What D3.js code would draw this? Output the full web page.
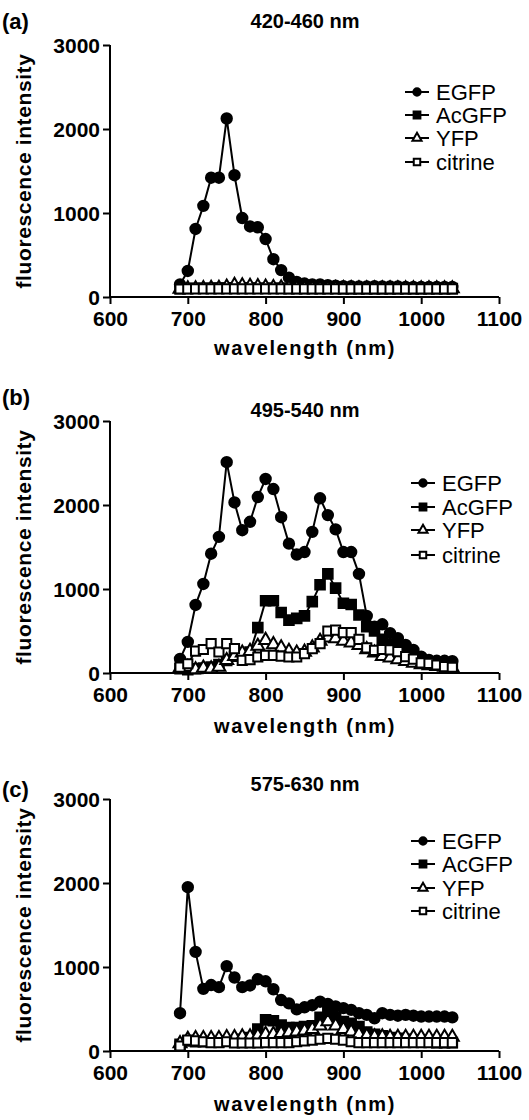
<!DOCTYPE html>
<html><head><meta charset="utf-8">
<script src="https://cdn.jsdelivr.net/npm/d3@7"></script>
<style>html,body{margin:0;padding:0;background:#fff;}svg{display:block;font-family:"Liberation Sans",Arial,sans-serif;}</style>
</head><body>
<script>
// ---------- data ----------
const wavelengths = [690,700,710,720,730,740,750,760,770,780,790,800,810,820,830,840,850,860,870,880,890,900,910,920,930,940,950,960,970,980,990,1000,1010,1020,1030,1040];
const seriesNames = ["EGFP","AcGFP","YFP","citrine"];
const panelLabels = ["(a)","(b)","(c)"];
const panelTitles = ["420-460 nm","495-540 nm","575-630 nm"];
const xTicks = [600,700,800,900,1000,1100];
const yTicks = [0,1000,2000,3000];

// panel (a) 420-460 nm
const egfpA    = [150,310,810,1085,1420,1420,2125,1450,940,840,830,690,450,320,230,180,160,150,150,140,135,130,130,125,125,130,125,125,125,120,120,120,120,120,120,120];
const acgfpA   = [100,102,104,105,105,106,108,110,108,106,105,105,104,104,103,103,102,102,102,101,101,100,100,100,100,100,100,100,100,100,100,100,100,100,100,100];
const yfpA     = [95,98,100,102,104,106,120,140,135,130,125,120,115,110,108,106,105,104,103,102,102,101,101,100,100,100,100,100,100,100,100,100,100,100,100,100];
const citrineA = [95,96,96,96,96,97,97,97,96,96,96,96,96,96,96,96,96,96,96,96,96,96,96,96,96,96,96,96,96,96,96,96,96,96,96,96];

// panel (b) 495-540 nm
const egfpB    = [167,370,810,1060,1420,1620,2510,2030,1700,1800,2095,2310,2190,1855,1540,1410,1440,1680,2080,1880,1710,1440,1440,1180,680,550,580,475,415,335,275,195,155,145,145,140];
const acgfpB   = [50,40,50,60,70,100,150,200,230,250,540,860,860,720,630,650,680,850,1050,1180,1010,830,815,690,550,500,400,340,290,240,200,160,130,110,100,90];
const yfpB     = [60,70,40,60,50,70,150,200,240,260,320,390,340,300,260,240,250,300,380,420,410,380,360,330,280,240,200,180,160,140,120,100,90,80,70,60];
const citrineB = [70,110,260,280,350,250,350,290,150,160,190,210,210,200,190,190,230,290,350,500,510,480,480,400,300,270,280,275,255,195,165,120,115,95,75,68];

// panel (c) 575-630 nm
const egfpC    = [450,1950,1180,740,785,760,1010,875,760,780,855,830,735,607,567,495,520,545,587,560,530,510,490,450,430,390,450,430,420,430,420,410,410,410,410,400];
const acgfpC   = [80,120,110,110,110,110,120,120,140,160,260,370,360,310,280,280,290,300,400,460,400,350,330,290,225,200,180,160,150,140,130,120,110,100,100,100];
const yfpC     = [90,140,150,150,150,150,160,160,170,170,180,200,200,210,220,230,240,260,300,350,300,260,230,200,180,170,170,165,165,165,165,165,165,165,165,165];
const citrineC = [60,130,120,110,100,100,110,95,95,95,95,100,100,100,100,110,120,130,140,150,140,130,110,100,100,100,100,100,100,100,100,100,100,100,100,100];

// ---------- layout (not data) ----------
const panels = [
  {series:[egfpA,acgfpA,yfpA,citrineA], top:45,  labelY:29,  titleY:28,  xLabY:355,  legX:405, legY:[92,115,138,162]},
  {series:[egfpB,acgfpB,yfpB,citrineB], top:421, labelY:405, titleY:417, xLabY:733,  legX:411, legY:[483,507,530,555]},
  {series:[egfpC,acgfpC,yfpC,citrineC], top:799, labelY:797, titleY:791, xLabY:1111, legX:411, legY:[841,864,888,911]}
];
const plotH = 252, xLeft = 110, xRight = 499;

const svg = d3.select("body").append("svg").attr("width",529).attr("height",1120);

const symTypes = [d3.symbolCircle, d3.symbolSquare, d3.symbolTriangle, d3.symbolSquare];
const symSizes = [85, 92, 72, 84];
const symFill = ["#000","#000","#fff","#fff"];

function drawSym(g, i, x, y, scale){
  g.append("path")
    .attr("d", d3.symbol().type(symTypes[i]).size(symSizes[i]*scale)())
    .attr("transform", `translate(${x},${y})`)
    .attr("fill", symFill[i]).attr("stroke","#000").attr("stroke-width", 2);
}

panels.forEach((p, pi) => {
  const x = d3.scaleLinear().domain([600,1100]).range([xLeft, xRight]);
  const y = d3.scaleLinear().domain([0,3000]).range([p.top+plotH, p.top]);
  const g = svg.append("g");

  // axes
  const xa = g.append("g").attr("transform",`translate(0,${p.top+plotH})`)
    .call(d3.axisBottom(x).tickValues(xTicks).tickSize(7).tickPadding(3).tickFormat(d3.format("d")));
  const ya = g.append("g").attr("transform",`translate(${xLeft},0)`)
    .call(d3.axisLeft(y).tickValues(yTicks).tickSize(7).tickPadding(3).tickFormat(d3.format("d")));
  [xa,ya].forEach(a=>{
    a.attr("font-size",null).attr("font-family",null);
    a.select(".domain").attr("stroke","#000").attr("stroke-width",2);
    a.selectAll(".tick line").attr("stroke","#000").attr("stroke-width",2);
    a.selectAll(".tick text").attr("fill","#000").style("font-size","21px").style("font-weight","bold")
      .style("font-family",'"Liberation Sans",Arial,sans-serif');
  });
  xa.select(".domain").attr("d",`M${xLeft},0H${xRight}`);
  xa.selectAll(".tick text").attr("dy","0.9em");
  ya.select(".domain").attr("d",`M0,${p.top+plotH}V${p.top}`);
  ya.selectAll(".tick text").attr("dy","0.36em");

  // series lines
  const line = d3.line().x((d,i)=>x(wavelengths[i])).y(d=>y(d));
  p.series.forEach((vals, si) => {
    g.append("path").datum(vals).attr("d", line).attr("fill","none")
      .attr("stroke","#000").attr("stroke-width",2).attr("stroke-linejoin","round");
  });
  p.series.forEach((vals, si) => {
    vals.forEach((v,i)=> drawSym(g, si, x(wavelengths[i]), y(v), 1));
  });

  // texts
  g.append("text").attr("x",2).attr("y",p.labelY).text(panelLabels[pi])
    .style("font-size","22px").style("font-weight","bold");
  g.append("text").attr("x",305).attr("y",p.titleY).attr("text-anchor","middle").text(panelTitles[pi])
    .style("font-size","20px").style("font-weight","bold");
  g.append("text").attr("x",305).attr("y",p.xLabY).attr("text-anchor","middle").text("wavelength (nm)")
    .style("font-size","20px").style("font-weight","bold").style("letter-spacing","1.6px");
  g.append("text").attr("transform",`translate(31,${p.top+plotH/2}) rotate(-90)`)
    .attr("text-anchor","middle").text("fluorescence intensity")
    .style("font-size","21px").style("font-weight","bold").style("letter-spacing","0.6px");

  // legend
  seriesNames.forEach((n, si) => {
    const ly = p.legY[si];
    g.append("line").attr("x1",p.legX).attr("x2",p.legX+24).attr("y1",ly).attr("y2",ly)
      .attr("stroke","#000").attr("stroke-width",2);
    drawSym(g, si, p.legX+12, ly, 0.5);
    g.append("text").attr("x",p.legX+31).attr("y",ly).attr("dy","0.36em").text(n)
      .style("font-size","22px");
  });
});
</script>
</body></html>
